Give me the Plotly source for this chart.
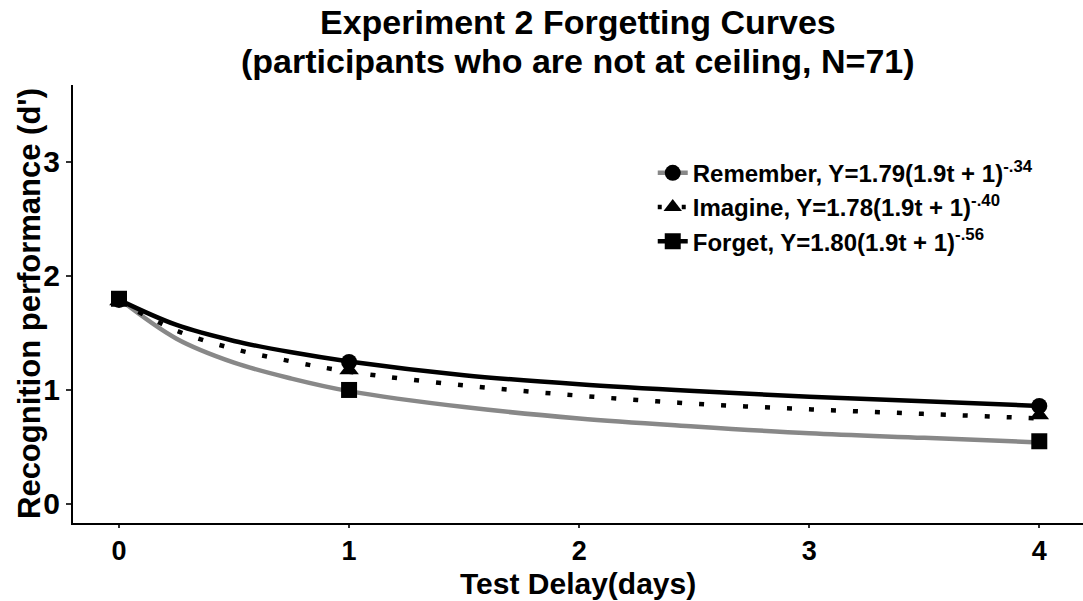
import plotly.graph_objects as go

# Fitted curves, values at these delays (days)
t_curve = [0, 0.25, 0.5, 0.75, 1, 1.5, 2, 2.5, 3, 3.5, 4]
gray_curve = [1.80, 1.45, 1.24, 1.10, 0.99, 0.85, 0.75, 0.68, 0.62, 0.58, 0.54]
dotted_curve = [1.78, 1.52, 1.36, 1.25, 1.16, 1.04, 0.95, 0.88, 0.83, 0.79, 0.75]
black_curve = [1.79, 1.57, 1.43, 1.33, 1.25, 1.13, 1.05, 0.99, 0.94, 0.90, 0.86]

# Observed points
t_circle = [0, 1, 4]
circle_vals = [1.79, 1.245, 0.86]
t_triangle = [0, 1, 4]
triangle_vals = [1.78, 1.175, 0.78]
t_square = [0, 1, 4]
square_vals = [1.80, 1.00, 0.55]

legend_labels = [
    "Remember, Y=1.79(1.9t + 1)<sup>-.34</sup>",
    "Imagine, Y=1.78(1.9t + 1)<sup>-.40</sup>",
    "Forget, Y=1.80(1.9t + 1)<sup>-.56</sup>",
]

title_lines = ["Experiment 2 Forgetting Curves", "(participants who are not at ceiling, N=71)"]
x_title = "Test Delay(days)"
y_title = "Recognition performance (d')"

x_ticks = [0, 1, 2, 3, 4]
y_ticks = [0, 1, 2, 3]

FONT = "Liberation Sans, Arial, sans-serif"
GRAY = "#888888"
DOT = "5px,17px"
LW = 4.5

fig = go.Figure()
fig.add_trace(go.Scatter(x=t_curve, y=gray_curve, mode="lines", line=dict(color=GRAY, width=LW, shape="spline"), showlegend=False))
fig.add_trace(go.Scatter(x=t_curve, y=dotted_curve, mode="lines", line=dict(color="black", width=LW, dash=DOT, shape="spline"), showlegend=False))
fig.add_trace(go.Scatter(x=t_curve, y=black_curve, mode="lines", line=dict(color="black", width=LW, shape="spline"), showlegend=False))
fig.add_trace(go.Scatter(x=t_circle, y=circle_vals, mode="markers", marker=dict(symbol="circle", size=16, color="black"), showlegend=False))
fig.add_trace(go.Scatter(x=t_triangle, y=triangle_vals, mode="markers", marker=dict(symbol="triangle-up", size=17, color="black"), showlegend=False))
fig.add_trace(go.Scatter(x=t_square, y=square_vals, mode="markers", marker=dict(symbol="square", size=16, color="black"), showlegend=False))

# Legend entries
leg_styles = [
    dict(line=dict(color=GRAY, width=LW), marker=dict(symbol="circle", size=16, color="black")),
    dict(line=dict(color="black", width=LW, dash="4px,8px"), marker=dict(symbol="triangle-up", size=17, color="black")),
    dict(line=dict(color="black", width=LW), marker=dict(symbol="square", size=16, color="black")),
]
for i, (lab, st) in enumerate(zip(legend_labels, leg_styles)):
    fig.add_trace(go.Scatter(x=[None], y=[None], mode="lines+markers", name=lab,
                             legendgroup=f"g{i}", showlegend=True, **st))

L, R, T, B = 73, 0, 85, 78
PLOT_H = 601 - T - B
PLOT_W = 1083 - L - R

def py(px):
    return (601 - B - px) / PLOT_H

def px_x(px):
    return (px - L) / PLOT_W

title_y_px = [22, 61]
for line, ypx in zip(title_lines, title_y_px):
    fig.add_annotation(text=f"<b>{line}</b>", xref="paper", yref="paper",
                       x=0.5, y=py(ypx), xanchor="center", yanchor="middle",
                       showarrow=False, font=dict(size=34, family=FONT, color="black"))

fig.add_annotation(text=f"<b>{x_title}</b>", xref="paper", yref="paper",
                   x=0.5, y=py(583), xanchor="center", yanchor="middle",
                   showarrow=False, font=dict(size=30, family=FONT, color="black"))
fig.add_annotation(text=f"<b>{y_title}</b>", xref="paper", yref="paper",
                   x=px_x(29), y=0.5, xanchor="center", yanchor="middle", textangle=-90,
                   showarrow=False, font=dict(size=31, family=FONT, color="black"))

fig.update_layout(
    width=1083, height=601,
    margin=dict(l=L, r=R, t=T, b=B),
    plot_bgcolor="white", paper_bgcolor="white",
    font=dict(family=FONT, color="black"),
    xaxis=dict(
        range=[-0.2, 4.19], tickvals=x_ticks, ticktext=[str(v) for v in x_ticks],
        showgrid=False, zeroline=False, showline=True, linecolor="black", linewidth=2,
        ticks="outside", ticklen=3, tickwidth=1.5, tickcolor="#333333",
        tickfont=dict(size=27, family=FONT, color="black", weight="bold"),
    ),
    yaxis=dict(
        range=[-0.167, 3.675], tickvals=y_ticks, ticktext=[str(v) for v in y_ticks],
        showgrid=False, zeroline=False, showline=True, linecolor="black", linewidth=2,
        ticks="outside", ticklen=5, tickwidth=1.5, tickcolor="#333333",
        tickfont=dict(size=30, family=FONT, color="black", weight="bold"),
    ),
    legend=dict(
        x=0.574, y=0.85, xanchor="left", yanchor="top",
        bgcolor="rgba(0,0,0,0)", traceorder="grouped", tracegroupgap=0,
        font=dict(size=24, family=FONT, color="black", weight="bold"),
        itemwidth=30,
    ),
)

fig.write_html("out.html")
